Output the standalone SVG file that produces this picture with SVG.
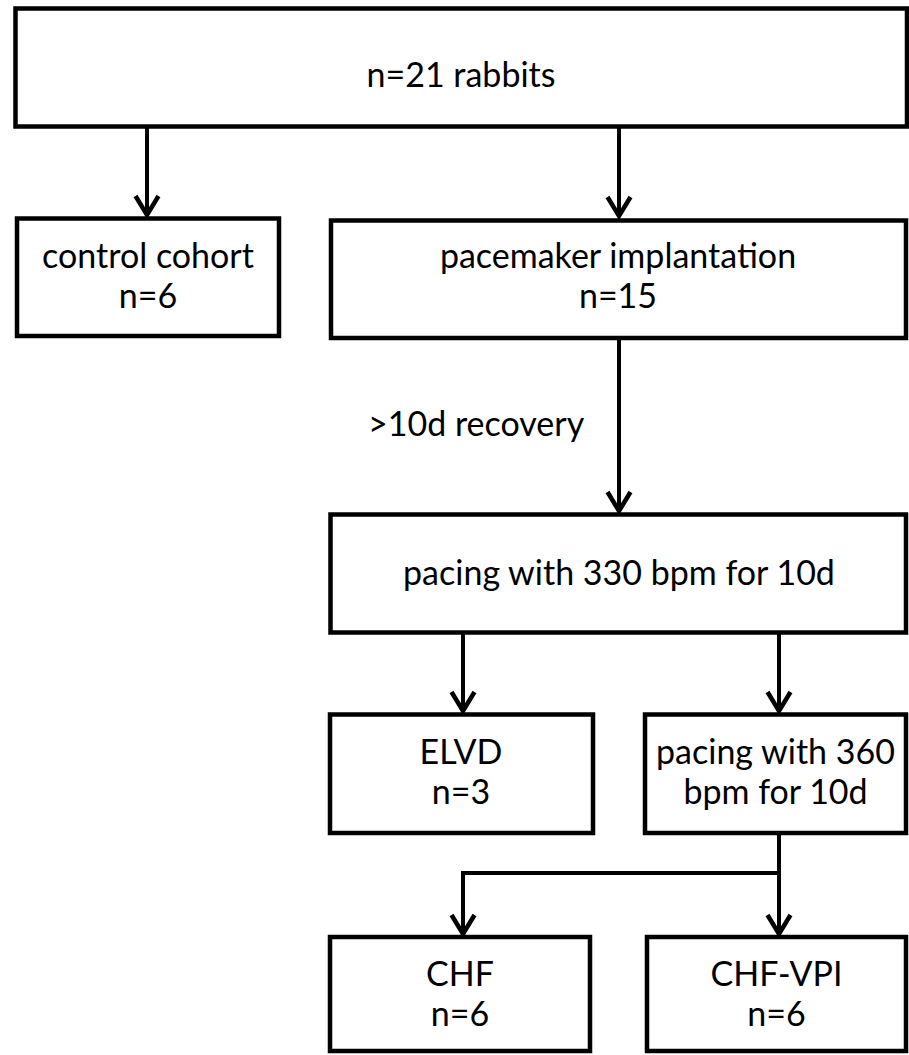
<svg xmlns="http://www.w3.org/2000/svg" width="909" height="1055" viewBox="0 0 909 1055">
<style>
.box{fill:#fff;stroke:#000;stroke-width:4.5}
.t{font-family:Lato,"Open Sans",sans-serif;font-size:34px;fill:#000;text-anchor:middle}
.c{fill:none;stroke:#000;stroke-width:4}
</style>
<defs>
<marker id="ah" markerUnits="userSpaceOnUse" orient="auto" refX="0" refY="0" markerWidth="30" markerHeight="30" overflow="visible">
<path d="M-19,-11.5 L0,0 L-19,11.5" fill="none" stroke="#000" stroke-width="4.5" stroke-linejoin="miter"/>
</marker>
</defs>
<rect width="909" height="1055" fill="#fff"/>
<g id="connectors">
<line class="c" x1="147" y1="127" x2="147" y2="215" marker-end="url(#ah)"/>
<line class="c" x1="619" y1="127" x2="619" y2="216" marker-end="url(#ah)"/>
<line class="c" x1="619" y1="338" x2="619" y2="511" marker-end="url(#ah)"/>
<line class="c" x1="463" y1="633" x2="463" y2="711" marker-end="url(#ah)"/>
<line class="c" x1="779" y1="633" x2="779" y2="711" marker-end="url(#ah)"/>
<line class="c" x1="779" y1="833" x2="779" y2="934" marker-end="url(#ah)"/>
<polyline class="c" points="779,873 463,873 463,934" marker-end="url(#ah)"/>
<text class="t" x="368" y="436" style="text-anchor:start">&gt;10d recovery</text>
</g>
<g id="n_rabbits">
<rect class="box" x="15.5" y="8.5" width="891.5" height="118"/>
<text class="t" x="461" y="87">n=21 rabbits</text>
</g>
<g id="n_control">
<rect class="box" x="17" y="218.5" width="262" height="117.5"/>
<text class="t" x="148" y="268">control cohort</text>
<text class="t" x="148" y="308">n=6</text>
</g>
<g id="n_pacemaker">
<rect class="box" x="331" y="220.5" width="575" height="117.5"/>
<text class="t" x="618" y="268">pacemaker implantation</text>
<text class="t" x="618" y="308">n=15</text>
</g>
<g id="n_pacing330">
<rect class="box" x="330.5" y="514.5" width="575.5" height="118"/>
<text class="t" x="619" y="585">pacing with 330 bpm for 10d</text>
</g>
<g id="n_elvd">
<rect class="box" x="330" y="714.5" width="263" height="118.5"/>
<text class="t" x="461" y="764">ELVD</text>
<text class="t" x="461" y="804">n=3</text>
</g>
<g id="n_pacing360">
<rect class="box" x="645" y="714.5" width="261" height="118.5"/>
<text class="t" x="775.5" y="764">pacing with 360</text>
<text class="t" x="775.5" y="804">bpm for 10d</text>
</g>
<g id="n_chf">
<rect class="box" x="330" y="937" width="260" height="114"/>
<text class="t" x="460" y="986">CHF</text>
<text class="t" x="460" y="1026">n=6</text>
</g>
<g id="n_chfvpi">
<rect class="box" x="647" y="937" width="259" height="114"/>
<text class="t" x="776.5" y="986">CHF-VPI</text>
<text class="t" x="776.5" y="1026">n=6</text>
</g>
</svg>
